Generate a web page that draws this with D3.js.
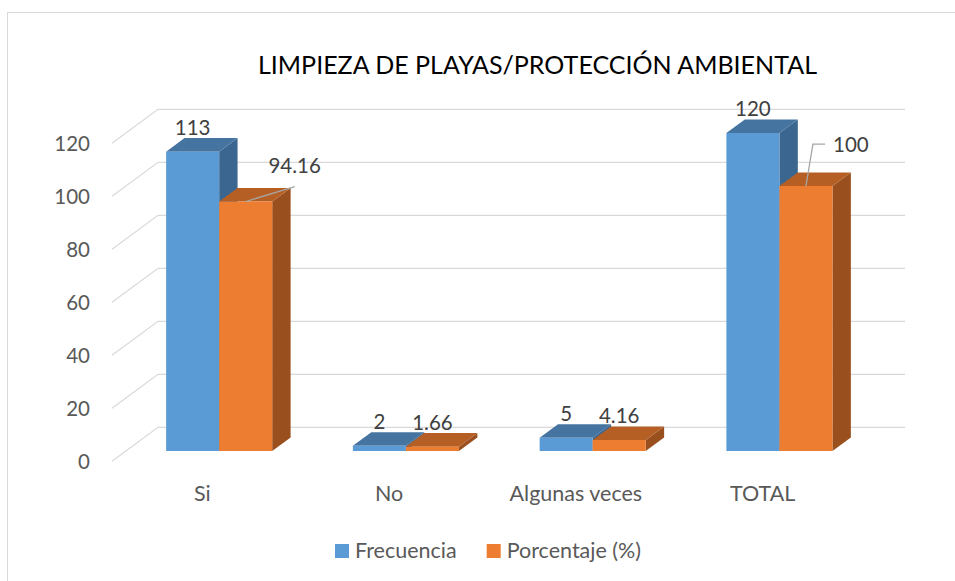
<!DOCTYPE html>
<html lang='en'>
<head>
  <meta charset='utf-8'>
  <script src="https://d3js.org/d3.v7.min.js"></script>
  <title>Limpieza de playas</title>
  <style>
    body { margin: 0; background: #fff; }
    text { font-family: Lato, "Open Sans", sans-serif; }
  </style>
</head>
<body>
  <div id="my_dataviz"></div>

  <script>
    // data
    const categories = ["Si", "No", "Algunas veces", "TOTAL"];
    const frecuencia = [113, 2, 5, 120];
    const porcentaje = [94.16, 1.66, 4.16, 100];
    const seriesNames = ["Frecuencia", "Porcentaje (%)"];
    const yTicks = [0, 20, 40, 60, 80, 100, 120];

    const W = 955, H = 581;

    // colours: front, top, side
    const colors = [
      {front: "#5b9bd5", top: "#4674a0", side: "#3b6690"},
      {front: "#ed7d31", top: "#b65f24", side: "#9a501e"}
    ];

    // oblique depth of the floor, and where the bars sit in it
    const DX = 46, DY = 34;
    const z0 = 0.30, z1 = 0.70;

    const svg = d3.select("#my_dataviz")
      .append("svg")
      .attr("width", W)
      .attr("height", H);

    // chart border
    svg.append("rect")
      .attr("x", 7.5).attr("y", 12.5)
      .attr("width", 960).attr("height", 600)
      .attr("fill", "none")
      .attr("stroke", "#d9d9d9");

    // title
    svg.append("text")
      .attr("x", 258).attr("y", 74)
      .attr("textLength", 559)
      .attr("lengthAdjust", "spacingAndGlyphs")
      .style("font-size", "25px")
      .style("fill", "#000")
      .text("LIMPIEZA DE PLAYAS/PROTECCIÓN AMBIENTAL");

    // scales (front plane of the floor)
    const x = d3.scaleBand()
      .domain(categories)
      .range([112, 859])
      .paddingInner(0.432)
      .paddingOuter(0.216);
    const xs = d3.scaleBand()
      .domain([0, 1])
      .range([0, x.bandwidth()]);
    const y = d3.scaleLinear()
      .domain([0, 120])
      .range([461.3, 143.3]);

    // project a point (front x, value, depth)
    const P = (xf, v, z) => [xf + z * DX, y(v) - z * DY];
    const pts = arr => arr.map(p => p.join(",")).join(" ");

    // gridlines: side wall diagonal + back wall
    const grid = svg.append("g")
      .attr("stroke", "#d9d9d9")
      .attr("stroke-width", 1.2)
      .attr("fill", "none");
    yTicks.forEach(t => {
      grid.append("polyline")
        .attr("points", pts([P(112, t, 0), P(112, t, 1), P(859, t, 1)]));
    });

    // y tick labels
    svg.append("g")
      .selectAll("text")
      .data(yTicks)
      .join("text")
      .attr("x", 90)
      .attr("y", d => y(d))
      .attr("dy", "0.36em")
      .attr("text-anchor", "end")
      .style("font-size", "20.5px")
      .style("fill", "#595959")
      .text(d => d);

    // category labels
    svg.append("g")
      .selectAll("text")
      .data(categories)
      .join("text")
      .attr("x", d => x(d) + x.bandwidth() / 2 - 3)
      .attr("y", 493)
      .attr("dy", "0.36em")
      .attr("text-anchor", "middle")
      .style("font-size", "21.5px")
      .style("fill", "#595959")
      .text(d => d);

    // bars
    const series = [frecuencia, porcentaje];
    const bars = svg.append("g");
    categories.forEach((c, i) => {
      series.forEach((vals, s) => {
        const v = vals[i];
        const xa = x(c) + xs(s), xb = xa + xs.bandwidth();
        const col = colors[s];
        const g = bars.append("g");
        // side
        g.append("polygon")
          .attr("points", pts([P(xb, 0, z0), P(xb, v, z0), P(xb, v, z1), P(xb, 0, z1)]))
          .attr("fill", col.side);
        // top
        g.append("polygon")
          .attr("points", pts([P(xa, v, z0), P(xb, v, z0), P(xb, v, z1), P(xa, v, z1)]))
          .attr("fill", col.top);
        // front
        g.append("polygon")
          .attr("points", pts([P(xa, 0, z0), P(xb, 0, z0), P(xb, v, z0), P(xa, v, z0)]))
          .attr("fill", col.front);
      });
    });

    // data labels (two of them moved aside with a leader line, as in the original)
    const moved = {
      "Si|1": {dx: 49, dy: -12, leader: "straight"},
      "TOTAL|1": {dx: 45, dy: -17, leader: "elbow"}
    };
    const labels = svg.append("g");
    categories.forEach((c, i) => {
      series.forEach((vals, s) => {
        const v = vals[i];
        const cx = x(c) + xs(s) + xs.bandwidth() / 2 + z0 * DX;
        const topY = y(v) - z0 * DY;
        let lx = cx, ly = topY - 17;
        const m = moved[c + "|" + s];
        if (m) {
          lx += m.dx; ly += m.dy;
        }
        const t = labels.append("text")
          .attr("x", lx).attr("y", ly)
          .attr("text-anchor", "middle")
          .style("font-size", "20.5px")
          .style("fill", "#404040")
          .text(v);
        if (m) {
          const w = t.node().getComputedTextLength();
          let line;
          if (m.leader === "straight") {
            line = [[cx, topY], [lx, ly + 14]];
          } else {
            const my = ly - 8;
            line = [[cx, topY], [cx + 7, my], [lx - w / 2 - 8, my]];
          }
          labels.append("polyline")
            .attr("points", pts(line))
            .attr("fill", "none")
            .attr("stroke", "#a6a6a6")
            .attr("stroke-width", 1.3);
        }
      });
    });

    // legend
    const legendX = [335, 486.7];
    const legend = svg.append("g");
    seriesNames.forEach((n, s) => {
      legend.append("rect")
        .attr("x", legendX[s]).attr("y", 544)
        .attr("width", 14).attr("height", 14)
        .attr("fill", colors[s].front);
      legend.append("text")
        .attr("x", legendX[s] + 20).attr("y", 557.5)
        .style("font-size", "21.5px")
        .style("fill", "#595959")
        .text(n);
    });
  </script>
</body>
</html>
